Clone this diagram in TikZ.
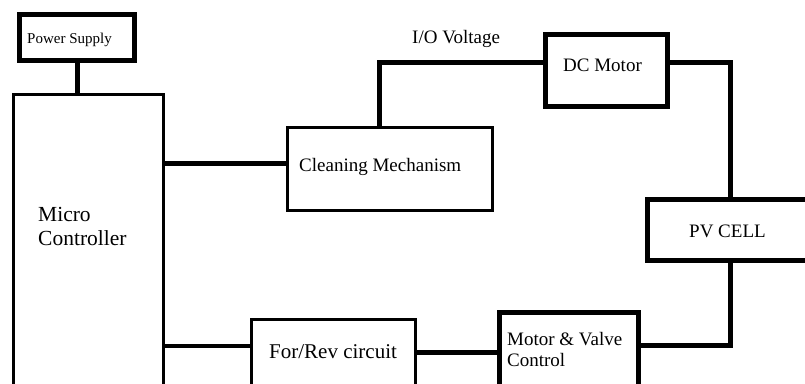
\documentclass[tikz,border=0pt]{standalone}
\usepackage{fontspec}
\setmainfont{Liberation Serif}
\begin{document}
\begin{tikzpicture}[x=1pt,y=-1pt,
  thinbox/.style={draw=black,line width=3pt,minimum width=#1,inner sep=0pt,outer sep=0pt,fill=white},
  thickbox/.style={draw=black,line width=5pt,inner sep=0pt,outer sep=0pt,fill=white},
  conn/.style={draw=black,line width=5pt},
  txt/.style={inner sep=0pt,anchor=base west,font=\fontsize{19}{23}\selectfont},
  smalltxt/.style={inner sep=0pt,anchor=base west,font=\fontsize{15}{18}\selectfont},
  bigtxt/.style={inner sep=0pt,anchor=base west,font=\fontsize{21.5}{24}\selectfont}]
\useasboundingbox (0,0) rectangle (805,383);
\clip (0,0) rectangle (805,383);
\fill[white] (0,0) rectangle (805,383);
% boxes
\node[thickbox,minimum width=115pt,minimum height=46pt] (PS) at (77,37.5) {};
\node[thinbox=150pt,minimum height=325.5pt] (MC) at (88.5,257.25) {};
\node[thinbox=205pt,minimum height=83pt] (CL) at (390,169) {};
\node[thickbox,minimum width=122pt,minimum height=72pt] (DC) at (606.5,70) {};
\node[thickbox,minimum width=165pt,minimum height=61pt] (PV) at (730,230) {};
\node[thickbox,minimum width=139pt,minimum height=107.5pt] (MV) at (569,366.25) {};
\node[thinbox=164pt,minimum height=100.5pt] (FR) at (333.5,369.75) {};
% connectors
\draw[conn] (PS.south) -- (PS.south |- MC.north);
\draw[conn] ([yshift=6pt]CL.west) -- ([yshift=6pt]CL.west -| MC.east);
\draw[conn] ([xshift=-11pt]CL.north) |- ([yshift=8pt]DC.west);
\draw[conn] ([yshift=8pt]DC.east) -| (PV.north);
\draw[conn] (PV.south) |- ([yshift=21.25pt]MV.east);
\draw[conn,line width=4.5pt] ([yshift=23.75pt]FR.west) -- ([yshift=23.75pt]FR.west -| MC.east);
\draw[conn] ([yshift=17.75pt]FR.east) -- ([yshift=17.75pt]FR.east -| MV.west);
% texts
\node[smalltxt] (tPS) at (27,43) {Power Supply};
\node[bigtxt] (tMC1) at (38,221.7) {Micro};
\node[bigtxt] (tMC2) at (38,245.7) {Controller};
\node[txt] (tCL) at (299,171.7) {Cleaning Mechanism};
\node[txt] (tIO) at (412,43) {I/O Voltage};
\node[txt] (tDC) at (563,71) {DC Motor};
\node[txt] (tPV) at (689,237) {PV CELL};
\node[txt,font=\fontsize{21}{24}\selectfont] (tFR) at (269,358) {For/Rev circuit};
\node[txt] (tMV1) at (507,345) {Motor \& Valve};
\node[txt] (tMV2) at (507,366.7) {Control};
\end{tikzpicture}
\end{document}
